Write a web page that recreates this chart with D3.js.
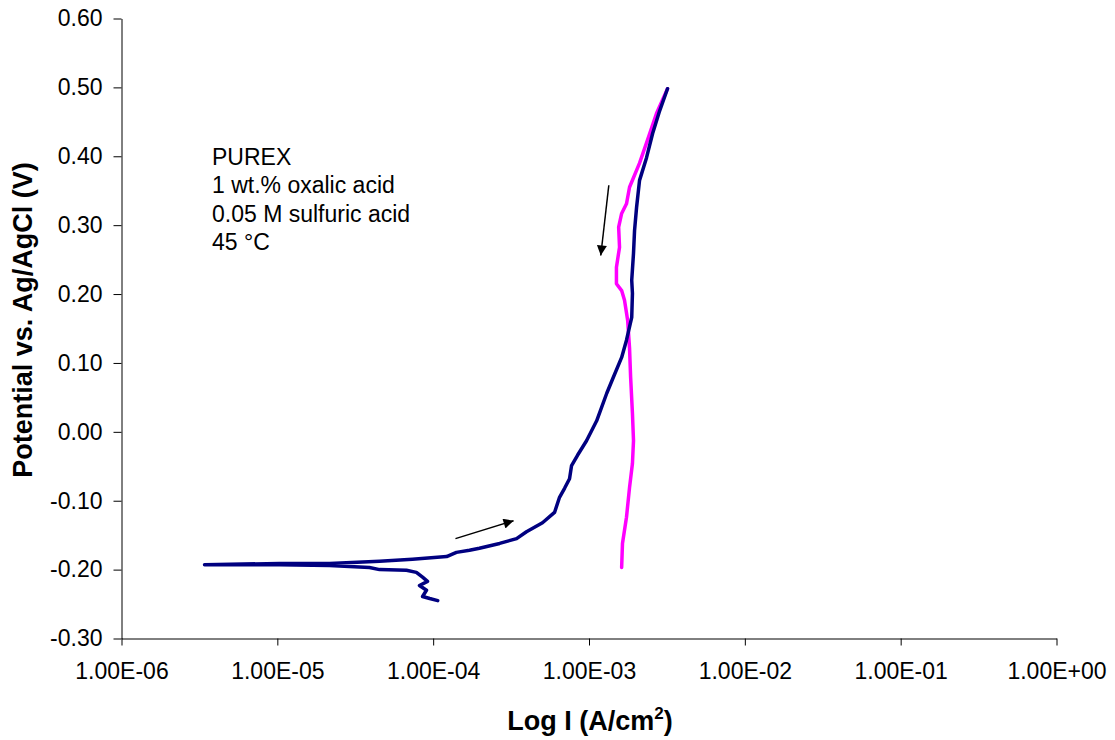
<!DOCTYPE html>
<html>
<head>
<meta charset="utf-8">
<script src="https://cdn.jsdelivr.net/npm/d3@7"></script>
<style>
  html, body { margin: 0; padding: 0; background: #fff; }
  svg { display: block; font-family: "Liberation Sans", Arial, sans-serif; }
</style>
</head>
<body>
<svg id="chart" width="1115" height="740"></svg>
<script>
// ---------- data ----------
const xTicks = [1e-6, 1e-5, 1e-4, 1e-3, 1e-2, 1e-1, 1e0];
const xTickLabels = ["1.00E-06", "1.00E-05", "1.00E-04", "1.00E-03", "1.00E-02", "1.00E-01", "1.00E+00"];
const yTicks = [-0.3, -0.2, -0.1, 0.0, 0.1, 0.2, 0.3, 0.4, 0.5, 0.6];
const yTickLabels = ["-0.30", "-0.20", "-0.10", "0.00", "0.10", "0.20", "0.30", "0.40", "0.50", "0.60"];

// forward scan (navy): current density (A/cm2) and potential (V)
const forwardI = [1.07e-4, 9.5e-5, 8.55e-5, 9.06e-5, 8.17e-5, 9.2e-5, 8.55e-5, 7.8e-5, 6.74e-5, 4.53e-5,
  3.9e-5, 2.16e-5, 1.03e-5, 3.41e-6, 1.03e-5, 2.16e-5, 4.53e-5, 7.36e-5, 1.22e-4, 1.41e-4,
  1.71e-4, 1.98e-4, 2.67e-4, 3.43e-4, 3.97e-4, 5.03e-4, 6.01e-4, 6.47e-4, 6.97e-4, 7.5e-4,
  7.73e-4, 8.44e-4, 9.64e-4, 1.12e-3, 1.30e-3, 1.42e-3, 1.62e-3, 1.74e-3, 1.88e-3, 1.90e-3,
  1.88e-3, 1.93e-3, 1.96e-3, 2.02e-3, 2.11e-3, 2.34e-3, 2.56e-3, 2.84e-3, 3.19e-3];
const forwardE = [-0.245, -0.242, -0.239, -0.230, -0.223, -0.217, -0.211, -0.204, -0.201, -0.200,
  -0.197, -0.194, -0.193, -0.193, -0.191, -0.191, -0.188, -0.185, -0.181, -0.175,
  -0.172, -0.169, -0.162, -0.155, -0.145, -0.132, -0.117, -0.095, -0.082, -0.068,
  -0.049, -0.034, -0.013, 0.016, 0.056, 0.077, 0.108, 0.133, 0.166, 0.201,
  0.220, 0.259, 0.292, 0.326, 0.365, 0.398, 0.433, 0.466, 0.498];

// reverse scan (magenta)
const reverseI = [3.19e-3, 2.71e-3, 2.37e-3, 2.11e-3, 1.82e-3, 1.74e-3, 1.62e-3, 1.55e-3, 1.57e-3, 1.50e-3,
  1.50e-3, 1.62e-3, 1.69e-3, 1.77e-3, 1.82e-3, 1.85e-3, 1.90e-3, 1.93e-3, 1.90e-3, 1.82e-3,
  1.74e-3, 1.64e-3, 1.62e-3];
const reverseE = [0.498, 0.462, 0.423, 0.390, 0.355, 0.331, 0.317, 0.297, 0.268, 0.239,
  0.215, 0.205, 0.191, 0.162, 0.122, 0.079, 0.027, -0.013, -0.046, -0.081,
  -0.124, -0.162, -0.197];

// scan-direction arrows: [startI, startE, endI, endE]
const arrows = [
  [1.39e-4, -0.155, 3.28e-4, -0.129],
  [1.34e-3, 0.358, 1.19e-3, 0.256]
];

const noteLines = ["PUREX", "1 wt.% oxalic acid", "0.05 M sulfuric acid", "45 °C"];

// ---------- chart ----------
const svg = d3.select("#chart");
const x = d3.scaleLog().domain([1e-6, 1]).range([121.5, 1056.5]);
const y = d3.scaleLinear().domain([-0.3, 0.6]).range([638.5, 18.5]);

svg.append("defs").append("marker")
  .attr("id", "ah").attr("viewBox", "0 0 10 10")
  .attr("refX", 10).attr("refY", 5)
  .attr("markerWidth", 12).attr("markerHeight", 10)
  .attr("markerUnits", "userSpaceOnUse")
  .attr("orient", "auto")
  .append("path").attr("d", "M0,0 L10,5 L0,10 Z").attr("fill", "#000");

// axes
const yAxis = d3.axisLeft(y).tickValues(yTicks)
  .tickFormat((d, i) => yTickLabels[i]).tickSizeInner(8).tickSizeOuter(0).tickPadding(11);
const gy = svg.append("g").attr("transform", `translate(${x.range()[0]},0)`).call(yAxis);

const xAxis = d3.axisBottom(x).tickValues(xTicks)
  .tickFormat((d, i) => xTickLabels[i]).tickSizeInner(7).tickSizeOuter(0).tickPadding(17);
const gx = svg.append("g").attr("transform", `translate(0,${y.range()[0]})`).call(xAxis);

[gx, gy].forEach(g => {
  g.select(".domain").attr("stroke", "#000").attr("stroke-width", 1);
  g.selectAll(".tick line").attr("stroke", "#000");
  g.selectAll(".tick text").attr("font-size", 23).attr("fill", "#000")
    .attr("font-family", "'Liberation Sans', Arial, sans-serif");
});

// curves
const line = d3.line().x(d => x(d[0])).y(d => y(d[1])).curve(d3.curveLinear);
const fwd = forwardI.map((v, i) => [v, forwardE[i]]);
const rev = reverseI.map((v, i) => [v, reverseE[i]]);

svg.append("path").datum(rev).attr("d", line)
  .attr("fill", "none").attr("stroke", "#FF00FF").attr("stroke-width", 3.5)
  .attr("stroke-linejoin", "round").attr("stroke-linecap", "round");
svg.append("path").datum(fwd).attr("d", line)
  .attr("fill", "none").attr("stroke", "#000080").attr("stroke-width", 3.5)
  .attr("stroke-linejoin", "round").attr("stroke-linecap", "round");

// arrows
svg.selectAll(".arrow").data(arrows).enter().append("line")
  .attr("x1", d => x(d[0])).attr("y1", d => y(d[1]))
  .attr("x2", d => x(d[2])).attr("y2", d => y(d[3]))
  .attr("stroke", "#000").attr("stroke-width", 1.5)
  .attr("marker-end", "url(#ah)");

// note
svg.append("g").selectAll("text").data(noteLines).enter().append("text")
  .attr("x", 212).attr("y", (d, i) => 165 + i * 28.3)
  .attr("font-size", 23).attr("fill", "#000").text(d => d);

// axis titles
svg.append("text").attr("x", 590).attr("y", 730).attr("text-anchor", "middle")
  .attr("font-size", 27).attr("font-weight", "bold")
  .call(t => {
    t.append("tspan").text("Log I (A/cm");
    t.append("tspan").attr("font-size", 17).attr("dy", -11).text("2");
    t.append("tspan").attr("dy", 11).text(")");
  });

svg.append("text").attr("transform", "translate(32,320) rotate(-90)")
  .attr("text-anchor", "middle").attr("font-size", 27).attr("font-weight", "bold")
  .text("Potential vs. Ag/AgCl (V)");
</script>
</body>
</html>
